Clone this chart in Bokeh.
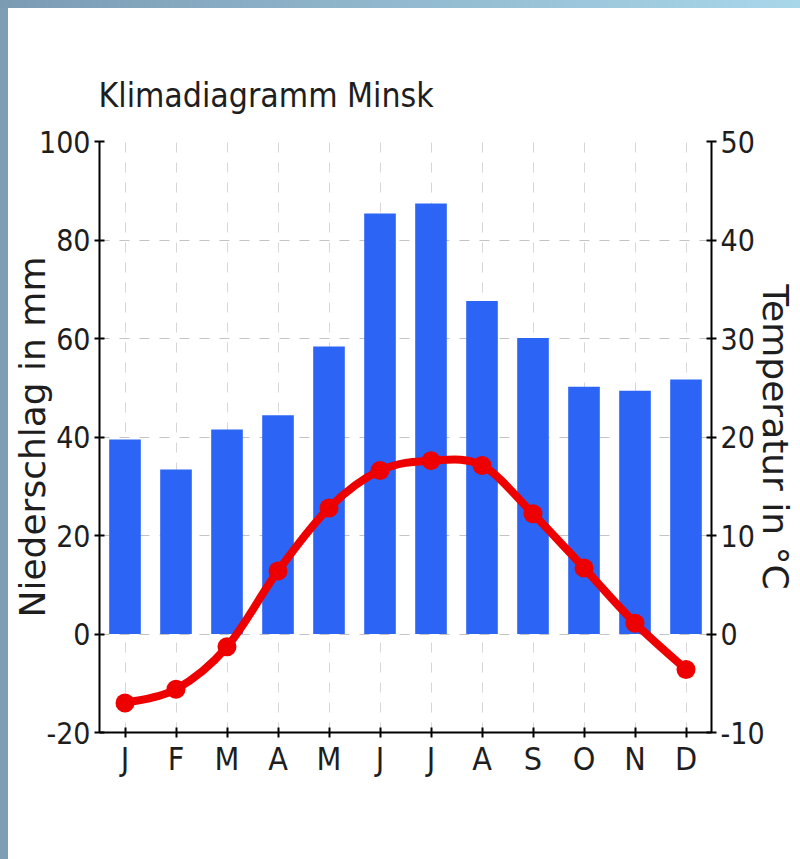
import numpy as np
from bokeh.plotting import figure
from bokeh.models import Range1d, LinearAxis, FixedTicker, GlobalInlineStyleSheet
from bokeh.embed import file_html
from bokeh.resources import INLINE

# ---- data ----
months = ["J", "F", "M", "A", "M", "J", "J", "A", "S", "O", "N", "D"]
precip_mm = [39.5, 33.4, 41.5, 44.4, 58.4, 85.4, 87.4, 67.6, 60.1, 50.2, 49.4, 51.7]
temp_c = [-7.0, -5.6, -1.3, 6.4, 12.8, 16.6, 17.6, 17.1, 12.2, 6.7, 1.1, -3.6]
precip_ticks = [-20, 0, 20, 40, 60, 80, 100]
temp_ticks = [-10, 0, 10, 20, 30, 40, 50]
title_text = "Klimadiagramm Minsk"
left_label = "Niederschlag in mm"
right_label = "Temperatur in °C"

xs = list(range(1, len(months) + 1))

COND = "DejaVu Sans Condensed"
TXT = "#1e1e1e"

p = figure(width=792, height=851, output_backend="svg", toolbar_location=None,
           x_range=Range1d(0.5, 12.5), y_range=Range1d(-20, 100),
           min_border_left=91, min_border_right=89,
           min_border_top=133, min_border_bottom=127,
           title=title_text, background_fill_color="white",
           border_fill_color="white", outline_line_color=None)

p.title.text_font = COND
p.title.text_font_size = "33.5px"
p.title.text_font_style = "normal"
p.title.text_color = TXT
p.title.standoff = 53
p.title.offset = -1

p.extra_y_ranges = {"temp": Range1d(-10, 50)}

# axes
p.xaxis.ticker = FixedTicker(ticks=xs)
p.xaxis.major_label_overrides = {i: m for i, m in zip(xs, months)}
p.yaxis.ticker = FixedTicker(ticks=precip_ticks)
p.yaxis.major_label_overrides = {t: str(t) for t in precip_ticks}
ra = LinearAxis(y_range_name="temp", ticker=FixedTicker(ticks=temp_ticks))
ra.major_label_overrides = {t: str(t) for t in temp_ticks}
p.add_layout(ra, "right")

for ax in [p.xaxis[0], p.yaxis[0], ra]:
    ax.axis_line_color = "black"
    ax.axis_line_width = 2
    ax.major_tick_line_color = "black"
    ax.major_tick_line_width = 2
    ax.major_tick_in = 5
    ax.major_tick_out = 5
    ax.minor_tick_line_color = None
    ax.major_label_text_font = COND
    ax.major_label_text_color = TXT
    ax.major_label_text_font_size = "30px"
    ax.major_label_standoff = 4
    ax.axis_label_text_font = "DejaVu Sans"
    ax.axis_label_text_font_style = "normal"
    ax.axis_label_text_font_size = "36px"
    ax.axis_label_text_color = TXT
p.xaxis.major_label_text_font_size = "32px"
p.xaxis.major_label_standoff = 2

p.yaxis[0].axis_label = left_label
p.yaxis[0].axis_label_standoff = -17
ra.axis_label = right_label
ra.axis_label_standoff = -13

# grid
p.ygrid.grid_line_color = "#c4c4c4"
p.ygrid.grid_line_dash = "10 10"
p.ygrid.grid_line_width = 1
p.xgrid.grid_line_color = "#d6d6d6"
p.xgrid.grid_line_dash = "10 10"
p.xgrid.grid_line_width = 1

# bars
p.vbar(x=xs, top=precip_mm, bottom=0, width=0.62,
       fill_color="#2c64f5", line_color=None)

# smooth temperature curve (bezier segments with control points from the data)
tx = np.array(xs, dtype=float)
ty = np.array(temp_c, dtype=float)
px = np.concatenate([[tx[0]], tx, [tx[-1]]])
py = np.concatenate([[ty[0]], ty, [ty[-1]]])
n = len(tx)
x0 = tx[:-1]; y0 = ty[:-1]; x1 = tx[1:]; y1 = ty[1:]
cx0 = tx[:-1] + (px[2:n + 1] - px[0:n - 1]) / 6.0
cy0 = ty[:-1] + (py[2:n + 1] - py[0:n - 1]) / 6.0
cx1 = tx[1:] - (px[3:n + 2] - px[1:n]) / 6.0
cy1 = ty[1:] - (py[3:n + 2] - py[1:n]) / 6.0
p.bezier(x0=x0, y0=y0, x1=x1, y1=y1, cx0=cx0, cy0=cy0, cx1=cx1, cy1=cy1,
         line_color="#ee0000", line_width=8, line_cap="round",
         y_range_name="temp")
p.scatter(x=xs, y=temp_c, size=19, marker="circle", fill_color="#ee0000",
          line_color=None, y_range_name="temp")

p.stylesheets = [GlobalInlineStyleSheet(css=(
    "html,body{box-sizing:border-box !important;}"
    "body{padding:8px 0 0 8px !important;margin:0 !important;background:"
    "linear-gradient(to right,#7b9bb3,#a9d7ea) left top/100% 8px no-repeat,"
    "linear-gradient(#7e9eb6,#7e9eb6) left top/8px 100% no-repeat,#ffffff !important;}"
))]

open("out.html", "w").write(file_html(p, INLINE))
